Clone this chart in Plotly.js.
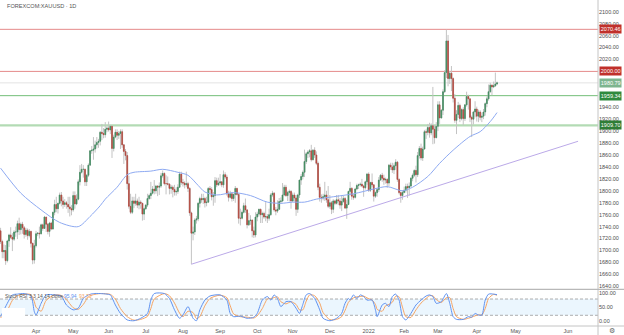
<!DOCTYPE html>
<html><head><meta charset="utf-8">
<script src="https://cdn.plot.ly/plotly-3.0.1.min.js"></script>
<style>html,body{margin:0;padding:0;background:#fff;}#chart{width:624px;height:335px;}</style>
</head><body><div id="chart"></div>
<script>
// ---------- DATA ----------
const startDate = "2021-03-03"; // first daily bar (weekday bars follow)
const openP = [
1733,1715,1698,
1700,1683,1716,1726,1722, 1719,1731,1731,1745,1735, 1744,1738,1727,1734,1725, 1732,1712,1684,1708,1728,
1729,1728,1743,1737,1756, 1744,1732,1746,1736,1764, 1777,1770,1779,1793,1783, 1777,1780,1777,1773,1770,
1768,1792,1778,1786,1815, 1831,1836,1836,1815,1826, 1843,1867,1868,1870,1877, 1881,1883,1898,1896,1894,
1903,1905,1902,1908,1871, 1890,1898,1893,1896,1899, 1877,1866,1859,1812,1774, 1764,1783,1779,1783,1776,
1781,1779,1761,1770,1776, 1787,1792,1796,1803,1800, 1808,1806,1808,1825,1829, 1812,1812,1811,1804,1806,
1802,1798,1799,1806,1828, 1814,1813,1810,1812,1804, 1763,1729,1731,1751,1753, 1779,1787,1785,1787,1780,
1781,1804,1802,1790,1792, 1817,1810,1813,1815,1810, 1827,1823,1795,1789,1795, 1787,1794,1804,1794,1754,
1754,1764,1775,1768,1743, 1750,1751,1733,1726,1756, 1761,1769,1760,1762,1756, 1757,1754,1760,1793,1796,
1768,1766,1769,1782,1783, 1793,1806,1792,1797,1799, 1783,1793,1788,1769,1793, 1818,1824,1831,1849,1862,
1865,1867,1852,1868,1860, 1846,1806,1789,1788,1790, 1793,1785,1774,1780,1769, 1783,1779,1785,1783,1776,
1782,1787,1771,1777,1799, 1804,1791,1789,1803,1809, 1810,1811,1808,1805,1815, 1828,1801,1814,1810,1791,
1797,1802,1818,1826,1821, 1818,1819,1813,1843,1840, 1835,1842,1848,1819,1797, 1792,1797,1801,1807,1805,
1808,1821,1826,1834,1827, 1859,1871,1855,1870,1899, 1898,1906,1897,1909,1903, 1889,1908,1944,1922,1935,
1966,1998,2051,1988,1997, 1988,1955,1918,1928,1943, 1921,1936,1921,1944,1958, 1954,1923,1920,1932,1937,
1925,1932,1923,1925,1932, 1946,1954,1966,1977,1974, 1976,1979];
const highP = [
1738,1718,1710,
1709,1718,1728,1739,1729, 1734,1740,1750,1755,1747, 1748,1741,1738,1737,1736, 1733,1713,1718,1733,1731,
1740,1745,1745,1758,1756, 1746,1748,1748,1765,1785, 1790,1780,1797,1798,1790, 1786,1783,1790,1790,1776,
1799,1799,1794,1819,1843, 1845,1843,1837,1828,1846, 1868,1875,1890,1884,1890, 1887,1900,1912,1905,1915,
1908,1916,1910,1909,1894, 1903,1903,1900,1903,1903, 1878,1870,1865,1825,1795, 1790,1790,1795,1787,1790,
1784,1780,1772,1778,1795, 1795,1815,1808,1818,1810, 1809,1814,1830,1834,1831, 1826,1824,1813,1810,1809,
1810,1806,1811,1832,1832, 1820,1816,1832,1815,1806, 1765,1740,1754,1758,1781, 1790,1795,1795,1790,1790,
1806,1808,1806,1798,1823, 1822,1822,1828,1816,1834, 1831,1827,1800,1800,1798, 1795,1808,1805,1796,1770,
1767,1780,1787,1769,1763, 1759,1752,1740,1764,1765, 1770,1770,1765,1765,1781, 1761,1770,1796,1800,1798,
1773,1784,1788,1789,1813, 1810,1810,1800,1802,1801, 1797,1797,1793,1795,1818, 1828,1834,1869,1865,1868,
1870,1877,1870,1873,1866, 1849,1812,1794,1795,1815, 1800,1808,1793,1783,1786, 1785,1793,1793,1788,1792,
1792,1790,1785,1800,1815, 1806,1795,1805,1812,1812, 1814,1820,1810,1817,1830, 1831,1815,1829,1811,1799,
1805,1823,1828,1830,1827, 1822,1821,1845,1847,1847, 1846,1853,1850,1821,1799, 1801,1807,1812,1812,1814,
1823,1829,1836,1842,1865, 1875,1879,1874,1902,1903, 1912,1914,1913,1974,1909, 1915,1950,1950,1937,1970,
2002,2070,2061,2001,2009, 1990,1962,1935,1949,1946, 1938,1940,1945,1966,1961, 1955,1926,1934,1950,1941,
1936,1935,1931,1937,1948, 1958,1978,1981,1978,1983, 1998,1983];
const lowP = [
1711,1687,1687,
1676,1680,1706,1719,1699, 1716,1723,1719,1726,1727, 1728,1720,1723,1718,1722, 1705,1677,1678,1705,1724,
1720,1727,1733,1736,1731, 1727,1723,1734,1735,1759, 1764,1762,1777,1774,1770, 1773,1770,1763,1757,1759,
1765,1770,1776,1784,1809, 1829,1822,1808,1808,1823, 1842,1862,1852,1864,1871, 1872,1876,1885,1888,1889,
1898,1899,1895,1855,1866, 1888,1885,1887,1870,1872, 1845,1851,1802,1770,1761, 1761,1771,1775,1771,1769,
1770,1750,1751,1768,1773, 1785,1786,1794,1794,1795, 1791,1793,1805,1822,1809, 1794,1809,1794,1795,1789,
1792,1792,1795,1805,1810, 1807,1804,1806,1798,1758, 1677,1717,1726,1745,1749, 1772,1780,1778,1772,1774,
1780,1795,1784,1775,1780, 1806,1808,1809,1806,1805, 1820,1792,1782,1787,1782, 1783,1780,1792,1745,1742,
1752,1762,1763,1737,1741, 1743,1722,1721,1722,1749, 1757,1746,1746,1753,1749, 1746,1750,1758,1790,1765,
1759,1763,1768,1778,1781, 1791,1790,1783,1782,1770, 1781,1782,1758,1763,1788, 1810,1819,1823,1845,1855,
1856,1849,1851,1855,1843, 1801,1782,1780,1784,1783, 1780,1771,1770,1761,1763, 1776,1777,1776,1770,1766,
1780,1770,1753,1776,1793, 1785,1785,1787,1801,1803, 1807,1806,1790,1802,1810, 1798,1798,1806,1782,1788,
1790,1798,1817,1815,1810, 1812,1805,1808,1835,1830, 1828,1835,1815,1794,1780, 1785,1796,1797,1788,1792,
1806,1816,1823,1814,1823, 1854,1851,1850,1869,1887, 1893,1889,1893,1878,1879, 1888,1900,1912,1921,1927,
1964,1989,1975,1979,1967, 1948,1914,1895,1922,1915, 1918,1910,1917,1941,1936, 1915,1890,1911,1923,1916,
1915,1918,1915,1920,1926, 1940,1951,1964,1960,1972, 1974,1977];
const closeP = [
1715,1698,1700,
1683,1716,1726,1722,1719, 1731,1731,1745,1735,1744, 1738,1727,1734,1725,1732, 1712,1684,1708,1728,1729,
1728,1743,1737,1756,1744, 1732,1746,1736,1764,1777, 1770,1779,1793,1783,1777, 1780,1777,1773,1770,1768,
1792,1778,1786,1815,1831, 1836,1836,1815,1826,1843, 1867,1868,1870,1877,1881, 1883,1898,1896,1894,1903,
1905,1902,1908,1871,1890, 1898,1893,1896,1899,1877, 1866,1859,1812,1774,1764, 1783,1779,1783,1776,1781,
1779,1761,1770,1776,1787, 1792,1796,1803,1800,1808, 1806,1808,1825,1829,1812, 1812,1811,1804,1806,1802,
1798,1799,1806,1828,1814, 1813,1810,1812,1804,1763, 1729,1731,1751,1753,1779, 1787,1785,1787,1780,1781,
1804,1802,1790,1792,1817, 1810,1813,1815,1810,1827, 1823,1795,1789,1795,1787, 1794,1804,1794,1754,1754,
1764,1775,1768,1743,1750, 1751,1733,1726,1756,1761, 1769,1760,1762,1756,1757, 1754,1760,1793,1796,1768,
1766,1769,1782,1783,1793, 1806,1792,1797,1799,1783, 1793,1788,1769,1793,1818, 1824,1831,1849,1862,1865,
1867,1852,1868,1860,1846, 1806,1789,1788,1790,1793, 1785,1774,1780,1769,1783, 1779,1785,1783,1776,1782,
1787,1771,1777,1799,1804, 1791,1789,1803,1809,1810, 1811,1808,1805,1815,1828, 1801,1814,1810,1791,1797,
1802,1818,1826,1821,1818, 1819,1813,1843,1840,1835, 1842,1848,1819,1797,1792, 1797,1801,1807,1805,1808,
1821,1826,1834,1827,1859, 1871,1855,1870,1899,1898, 1906,1897,1909,1903,1889, 1908,1944,1922,1935,1966,
1998,2051,1988,1997,1988, 1955,1918,1928,1943,1921, 1936,1921,1944,1958,1954, 1923,1920,1932,1937,1925,
1932,1923,1925,1932,1946, 1954,1966,1977,1974,1976, 1979,1980.79];

// moving average line
const maDates = ["2021-03-03","2021-03-19","2021-04-06","2021-04-21","2021-05-06","2021-05-17","2021-05-25","2021-05-28","2021-06-08","2021-06-16","2021-06-22","2021-07-06","2021-07-15","2021-07-28","2021-08-05","2021-08-13","2021-08-19","2021-08-30","2021-09-13","2021-09-27","2021-10-11","2021-10-21","2021-11-01","2021-11-10","2021-11-19","2021-12-03","2021-12-21","2022-01-06","2022-01-18","2022-01-31","2022-02-08","2022-02-21","2022-03-02","2022-03-14","2022-03-28","2022-04-05","2022-04-13","2022-04-19"];
const maValues = [1838,1796,1768,1747,1740,1757,1775,1786,1806,1827,1831,1833,1836,1831,1826,1809,1798,1793,1797,1792,1781,1779,1781,1781,1786,1790,1795,1803,1807,1800,1806,1824,1846,1868,1891,1899,1916,1931];

// rising trend line
const trendDates = ["2021-08-09","2022-06-24"];
const trendValues = [1677, 1883];

// horizontal levels
const levels = [2070.46, 2000.00, 1980.79, 1959.34, 1909.70];

// price scale labels shown (those hidden behind level tags are left out)
const priceTicks = [1640,1660,1680,1700,1720,1740,1760,1780,1800,1820,1840,1860,1880,1900,1920,1940,2020,2040,2060,2080,2100];

// Stoch RSI (bar number into the daily series)
const stochBar = [0,4,7,10,14,18,20,21,24,27,32,36,39,43,46,49,52,55,59,63,65,68,71,75,79,83,87,89,91,97,100,103,106,108,111,114,116,118,121,124,130,134,136,138,142,146,150,152,155,158,160,162,164,166,169,172,175,177,179,181,183,186,189,191,195,199,202,204,206,207,209,211,213,215,217,220,222,223,226,228,230,232,234,236,238,240,243,246,249,252,254,256,258,261,264,266,268,270,274,277,279,281,283,285,287,289,292,294];
const stochK = [15,64,95,98,100,91,33,21,64,95,95,91,58,40,46,82,95,100,100,98,95,58,27,3,0,9,27,76,100,100,82,40,9,21,52,9,0,40,76,91,95,76,27,15,17,9,13,27,76,89,76,95,82,52,70,70,46,27,60,95,100,82,40,9,0,9,27,64,82,76,95,82,95,89,76,76,40,15,58,64,52,89,98,76,15,3,27,58,76,91,95,89,64,70,100,64,15,5,5,15,13,27,21,21,76,98,98,95.94];
const stochD = [10,38,75,92,98,96,70,50,35,75,95,93,78,48,42,60,88,96,100,99,97,80,45,15,2,5,16,45,80,100,92,65,28,15,35,30,8,15,55,82,94,85,55,25,15,13,10,18,45,80,82,85,88,70,62,70,60,40,40,72,95,92,65,30,4,5,15,38,68,75,84,88,89,91,84,76,60,42,35,55,60,68,90,88,50,15,12,40,65,82,92,92,78,67,85,85,45,15,5,9,13,18,22,21,45,82,97,93.73];

const monthTicks = ["2021-04-01","2021-05-03","2021-06-01","2021-07-01","2021-08-02","2021-09-01","2021-10-01","2021-11-01","2021-12-01","2022-01-03","2022-02-01","2022-03-01","2022-04-01","2022-05-04","2022-06-16"];
const monthLabels = ["Apr","May","Jun","Jul","Aug","Sep","Oct","Nov","Dec","2022","Feb","Mar","Apr","May","Jun"];

// ---------- STYLES ----------
const levelLineColors = ["#e58a8a","#e58a8a","#e3e3e3","#74be78","#b3dbb4"];
const levelLineWidths = [1,1,1,1,2.2];
const levelBoxColors = ["#c0302b","#c0302b","#7db58f","#2f8a3e","#2f7d36"];

// ---------- BUILD ----------
function tradingDays(start, n){
  const out=[]; const d=new Date(start+"T00:00:00Z");
  while(out.length<n){ const w=d.getUTCDay(); if(w!==0&&w!==6) out.push(d.toISOString().slice(0,10)); d.setUTCDate(d.getUTCDate()+1); }
  return out;
}
const dates = tradingDays(startDate, closeP.length);
const bodyHigh = openP.map((o,i)=>Math.max(o,closeP[i]));
const bodyLow  = openP.map((o,i)=>Math.min(o,closeP[i]));
const stochX = stochBar.map(b=>dates[b]);

const wick = '#c3c3c3', up = '#3e8c5e', dn = '#b3453a';
const traces = [
 {type:'candlestick', x:dates, open:openP, high:highP, low:lowP, close:closeP, xaxis:'x', yaxis:'y',
  increasing:{line:{color:wick,width:1}, fillcolor:wick}, decreasing:{line:{color:wick,width:1}, fillcolor:wick},
  whiskerwidth:0, hoverinfo:'skip'},
 {type:'candlestick', x:dates, open:openP, high:bodyHigh, low:bodyLow, close:closeP, xaxis:'x', yaxis:'y',
  increasing:{line:{color:up,width:0.6}, fillcolor:up}, decreasing:{line:{color:dn,width:0.6}, fillcolor:dn},
  whiskerwidth:0, hoverinfo:'skip'},
 {type:'scatter', mode:'lines', x:maDates, y:maValues, xaxis:'x', yaxis:'y',
  line:{color:'#8eaaf2', width:1, shape:'spline', smoothing:0.8}, hoverinfo:'skip'},
 {type:'scatter', mode:'lines', x:trendDates, y:trendValues, xaxis:'x', yaxis:'y',
  line:{color:'#bba9e8', width:1}, hoverinfo:'skip'},
 {type:'scatter', mode:'lines', x:stochX, y:stochD, xaxis:'x', yaxis:'y2',
  line:{color:'#f5a463', width:1, shape:'spline', smoothing:0.7}, hoverinfo:'skip'},
 {type:'scatter', mode:'lines', x:stochX, y:stochK, xaxis:'x', yaxis:'y2',
  line:{color:'#5f92f0', width:1, shape:'spline', smoothing:0.7}, hoverinfo:'skip'}
];

const plotW = 598, plotH = 326;
const split = (plotH-289.3)/plotH;
const shapes = [
 {type:'rect', xref:'paper', yref:'y2', x0:0, x1:1, y0:20, y1:80, fillcolor:'rgba(33,150,243,0.09)', line:{width:0}, layer:'below'},
 {type:'line', xref:'paper', yref:'y2', x0:0, x1:1, y0:80, y1:80, line:{color:'#9a9a9a', width:0.8, dash:'3px,2px'}, layer:'below'},
 {type:'line', xref:'paper', yref:'y2', x0:0, x1:1, y0:20, y1:20, line:{color:'#9a9a9a', width:0.8, dash:'3px,2px'}, layer:'below'},
 {type:'line', xref:'paper', yref:'paper', x0:1, x1:1, y0:-9/plotH, y1:1, line:{color:'#c4c4c4', width:1}},
 {type:'line', xref:'paper', yref:'paper', x0:0, x1:624/plotW, y0:split, y1:split, line:{color:'#b8b8b8', width:1.3}},
 {type:'line', xref:'paper', yref:'paper', x0:0, x1:624/plotW, y0:0, y1:0, line:{color:'#c4c4c4', width:1}},
 {type:'rect', xref:'paper', yref:'y2', x0:0.003, x1:0.042, y0:3, y1:47, fillcolor:'#ffffff', line:{width:0}, layer:'above'}
];
levels.forEach((lv,k)=>{
  shapes.push({type:'line', xref:'paper', yref:'y', x0:0, x1:1, y0:lv, y1:lv,
    line:{color:levelLineColors[k], width:levelLineWidths[k]}, layer:'below'});
});

const annotations = [
 {xref:'paper', yref:'paper', x:5/plotW, y:1-6/plotH, xanchor:'left', yanchor:'middle', showarrow:false,
  text:'FOREXCOM:XAUUSD · 1D', font:{size:5.6, color:'#555'}},
 {xref:'paper', yref:'y2', x:3/plotW, y:92, xanchor:'left', yanchor:'middle', showarrow:false,
  text:'Stoch RSI 3 3 14 14 close', font:{size:5, color:'#555'}},
 {xref:'paper', yref:'y2', x:62/plotW, y:92, xanchor:'left', yanchor:'middle', showarrow:false,
  text:stochK[stochK.length-1].toFixed(2), font:{size:5, color:'#5f92f0'}},
 {xref:'paper', yref:'y2', x:77/plotW, y:92, xanchor:'left', yanchor:'middle', showarrow:false,
  text:stochD[stochD.length-1].toFixed(2), font:{size:5, color:'#f5a463'}},
 {xref:'paper', yref:'paper', x:612/plotW, y:-4.5/plotH, xanchor:'center', yanchor:'middle', showarrow:false,
  text:'⚙', font:{size:7, color:'#666', family:'DejaVu Sans'}}
];
levels.forEach((lv,k)=>{
  annotations.push({xref:'paper', yref:'y', x:1, y:lv, xanchor:'left', yanchor:'middle', xshift:1, showarrow:false,
    text:lv.toFixed(2), bgcolor:levelBoxColors[k], borderpad:0.8, font:{size:5.5, color:'#ffffff'}});
});

const layout = {
  width:624, height:335, margin:{l:0, r:26, t:0, b:9},
  paper_bgcolor:'#ffffff', plot_bgcolor:'#ffffff', showlegend:false, hovermode:false,
  font:{family:'Liberation Sans, Arial, sans-serif', size:5.5, color:'#4d4d4d'},
  xaxis:{type:'date', range:['2021-03-02 16:00','2022-07-11 19:00'], rangebreaks:[{bounds:['sat','mon']}],
    rangeslider:{visible:false}, showgrid:false, zeroline:false, showline:false, ticks:'',
    tickmode:'array', tickvals:monthTicks, ticktext:monthLabels, tickfont:{size:5.5, color:'#555'}, anchor:'y2'},
  yaxis:{domain:[split,1], range:[1635.0, 2119.6], side:'right', showgrid:false, zeroline:false, showline:false,
    tickmode:'array', tickvals:priceTicks, ticktext:priceTicks.map(v=>v.toFixed(2)), ticks:'',
    tickfont:{size:5.5, color:'#4d4d4d'}, anchor:'x'},
  yaxis2:{domain:[0,split], range:[-19.4,115.7], side:'right', showgrid:false, zeroline:false, showline:false,
    tickmode:'array', tickvals:[0,50,100], ticktext:['0.00','50.00','100.00'], ticks:'', tickfont:{size:5.5, color:'#4d4d4d'}, anchor:'x'},
  shapes:shapes, annotations:annotations
};
Plotly.newPlot('chart', traces, layout, {staticPlot:true, displayModeBar:false});
</script>
</body></html>
